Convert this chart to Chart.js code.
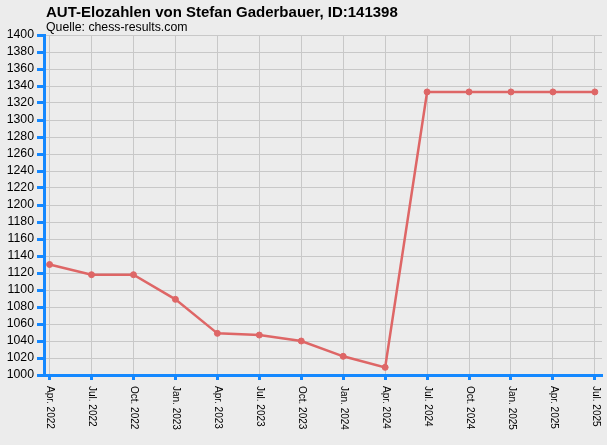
<!DOCTYPE html>
<html>
<head>
<meta charset="utf-8">
<script src="https://cdn.jsdelivr.net/npm/chart.js@4.4.0/dist/chart.umd.min.js"></script>
<style>
  html, body { margin: 0; padding: 0; background: #ececec; }
  #wrap { width: 607px; height: 445px; }
</style>
</head>
<body>
<div id="wrap"><canvas id="grafik_elo" width="607" height="445"></canvas></div>
<script>
// Quartal-Beschriftungen und Elo-Werte
var quartale = [
  "Apr. 2022", "Jul. 2022", "Oct. 2022", "Jan. 2023", "Apr. 2023", "Jul. 2023", "Oct. 2023",
  "Jan. 2024", "Apr. 2024", "Jul. 2024", "Oct. 2024", "Jan. 2025", "Apr. 2025", "Jul. 2025"
];
var elo = [1130, 1118, 1118, 1089, 1049, 1047, 1040, 1022, 1009, 1333, 1333, 1333, 1333, 1333];
var y_min = 1000;
var y_max = 1400;
var y_step = 20;

var judul = "AUT-Elozahlen von Stefan Gaderbauer, ID:141398";
var sub_judul = "Quelle: chess-results.com";

var biru = "rgb(20,136,255)";
var garis = "rgb(222,102,102)";
var font_name = "'Liberation Sans', Arial, sans-serif";

// Titel und gedrehte x-Beschriftungen selbst zeichnen
const pluginTeks = {
  id: "teks",
  afterDraw: function (chart) {
    const ctx = chart.ctx;
    const xs = chart.scales.x;
    ctx.save();
    ctx.fillStyle = "#000";
    ctx.textAlign = "left";
    ctx.textBaseline = "alphabetic";
    ctx.font = "bold 15px " + font_name;
    ctx.fillText(judul, 46, 17);
    ctx.font = "12.3px " + font_name;
    ctx.fillText(sub_judul, 46, 31);

    ctx.font = "10px " + font_name;
    ctx.textBaseline = "middle";
    xs.ticks.forEach(function (t) {
      const px = xs.getPixelForValue(t.value);
      ctx.save();
      ctx.translate(px + 0.5, xs.top + 11);
      ctx.rotate(Math.PI / 2);
      ctx.fillText(quartale[t.value], 0, 0);
      ctx.restore();
    });
    ctx.restore();
  }
};

const data = {
  datasets: [
    {
      label: "Elo",
      data: elo.map(function (v, i) { return { x: i, y: v }; }),
      borderColor: garis,
      backgroundColor: garis,
      borderWidth: 2.5,
      pointRadius: 3,
      pointBackgroundColor: garis,
      pointBorderColor: garis,
      pointBorderWidth: 1,
      tension: 0
    }
  ]
};

const config = {
  type: "line",
  data: data,
  options: {
    responsive: false,
    animation: false,
    devicePixelRatio: 1,
    layout: { padding: { top: 35, right: 4, left: 0, bottom: 0 } },
    plugins: {
      legend: { display: false },
      tooltip: { enabled: false },
      title: { display: false }
    },
    scales: {
      x: {
        type: "linear",
        min: -0.133,
        max: 13.17,
        afterBuildTicks: function (scale) {
          scale.ticks = quartale.map(function (q, i) { return { value: i }; });
        },
        afterFit: function (scale) { scale.height = 70; },
        grid: {
          color: "#c8c8c8",
          lineWidth: 1,
          drawTicks: true,
          tickLength: 5,
          tickColor: biru,
          tickWidth: 3
        },
        border: { display: true, color: biru, width: 3 },
        ticks: { display: false }
      },
      y: {
        min: y_min,
        max: y_max,
        afterFit: function (scale) { scale.width = 44; },
        ticks: {
          stepSize: y_step,
          autoSkip: false,
          color: "#000",
          padding: 3,
          font: { family: font_name, size: 12.3 },
          callback: function (value) { return String(value); }
        },
        grid: {
          color: "#c8c8c8",
          lineWidth: 1,
          drawTicks: true,
          tickLength: 7,
          tickColor: biru,
          tickWidth: 3
        },
        border: { display: true, color: biru, width: 3 }
      }
    }
  },
  plugins: [pluginTeks]
};

const grafik = document.getElementById("grafik_elo").getContext("2d");
const grafik_elo = new Chart(grafik, config);
</script>
</body>
</html>
